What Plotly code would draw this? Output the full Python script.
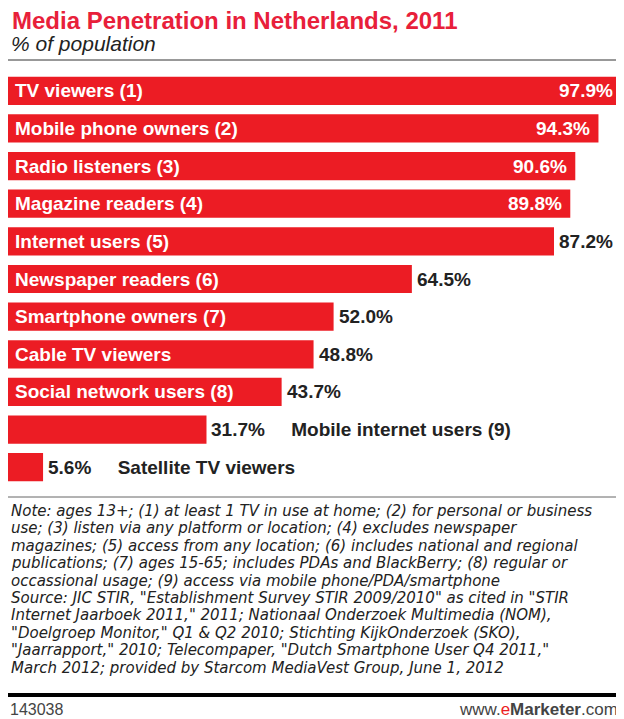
import plotly.graph_objects as go

categories = ["TV viewers (1)", "Mobile phone owners (2)", "Radio listeners (3)",
              "Magazine readers (4)", "Internet users (5)", "Newspaper readers (6)",
              "Smartphone owners (7)", "Cable TV viewers", "Social network users (8)",
              "Mobile internet users (9)", "Satellite TV viewers"]
values = [97.9, 94.3, 90.6, 89.8, 87.2, 64.5, 52.0, 48.8, 43.7, 31.7, 5.6]

title = "Media Penetration in Netherlands, 2011"
subtitle = "% of population"
notes = [
    "Note: ages 13+; (1) at least 1 TV in use at home; (2) for personal or business",
    "use; (3) listen via any platform or location; (4) excludes newspaper",
    "magazines; (5) access from any location; (6) includes national and regional",
    "publications; (7) ages 15-65; includes PDAs and BlackBerry; (8) regular or",
    "occassional usage; (9) access via mobile phone/PDA/smartphone",
    "Source: JIC STIR, \"Establishment Survey STIR 2009/2010\" as cited in \"STIR",
    "Internet Jaarboek 2011,\" 2011; Nationaal Onderzoek Multimedia (NOM),",
    "\"Doelgroep Monitor,\" Q1 & Q2 2010; Stichting KijkOnderzoek (SKO),",
    "\"Jaarrapport,\" 2010; Telecompaper, \"Dutch Smartphone User Q4 2011,\"",
    "March 2012; provided by Starcom MediaVest Group, June 1, 2012",
]
chart_id = "143038"

# the page body has an 8px margin, so the figure is drawn 8px smaller
OFF = 8
W, H = 624 - OFF, 719 - OFF
ML, MR, MT, MB = 0, 2, 64, 233
PW, PH = W - ML - MR, H - MT - MB

RED = "#EC1C24"
FONT = "Liberation Sans"


# positions below are given in the reference picture's pixels
def px(x):
    return (x - OFF - ML) / PW


def py(y):
    return (H - MB - (y - OFF)) / PH


fig = go.Figure(go.Bar(
    x=values, y=categories, orientation="h",
    marker=dict(color=RED, line=dict(width=0)),
    hoverinfo="skip",
))

ann = []
for cat, v in zip(categories, values):
    val = f"{v:.1f}%"
    if v > 40:
        ann.append(dict(x=0, y=cat, xref="x", yref="y", text=cat, showarrow=False,
                        xanchor="left", xshift=5,
                        font=dict(family=FONT, size=19, color="white", weight="bold")))
        if v > 88:
            ann.append(dict(x=v, y=cat, xref="x", yref="y", text=val, showarrow=False,
                            xanchor="right", xshift=-6,
                            font=dict(family=FONT, size=19, color="white", weight="bold")))
        else:
            ann.append(dict(x=v, y=cat, xref="x", yref="y", text=val, showarrow=False,
                            xanchor="left", xshift=3,
                            font=dict(family=FONT, size=19, color="#222", weight="bold")))
    else:
        ann.append(dict(x=v, y=cat, xref="x", yref="y",
                        text=val + "\u00a0" * 5 + cat, showarrow=False,
                        xanchor="left", xshift=3,
                        font=dict(family=FONT, size=19, color="#222", weight="bold")))

ann.append(dict(x=px(10), y=py(21), xref="paper", yref="paper", text=title,
                showarrow=False, xanchor="left", yanchor="middle",
                font=dict(family=FONT, size=24, color="#E8203A", weight="bold")))
ann.append(dict(x=px(9), y=py(44), xref="paper", yref="paper", text=subtitle,
                showarrow=False, xanchor="left", yanchor="middle",
                font=dict(family=FONT, size=21, color="#222", style="italic")))

for i, line in enumerate(notes):
    ann.append(dict(x=px(9), y=py(511 + i * 17.4), xref="paper", yref="paper",
                    text=line, showarrow=False, xanchor="left", yanchor="middle",
                    font=dict(family="DejaVu Sans", size=15, color="#222", style="italic")))

ann.append(dict(x=px(8), y=py(709), xref="paper", yref="paper", text=chart_id,
                showarrow=False, xanchor="left", yanchor="middle",
                font=dict(family=FONT, size=16, color="#444")))
ann.append(dict(x=px(620), y=py(709), xref="paper", yref="paper",
                text="www.<span style='color:#EC1C24'>e</span><b>Marketer</b>.com",
                showarrow=False, xanchor="right", yanchor="middle",
                font=dict(family=FONT, size=17, color="#444")))

shapes = [
    dict(type="rect", xref="paper", yref="paper", x0=px(0), x1=px(624), y0=py(0), y1=py(3),
         fillcolor="black", line=dict(width=0)),
    dict(type="line", xref="paper", yref="paper", x0=px(8), x1=px(622), y0=py(60), y1=py(60),
         line=dict(color="#333", width=1)),
    dict(type="line", xref="paper", yref="paper", x0=px(8), x1=px(622), y0=py(497), y1=py(497),
         line=dict(color="#666", width=1)),
    dict(type="rect", xref="paper", yref="paper", x0=px(8), x1=px(622), y0=py(693), y1=py(697),
         fillcolor="black", line=dict(width=0)),
]

fig.update_layout(
    width=W, height=H,
    margin=dict(l=ML, r=MR, t=MT, b=MB),
    paper_bgcolor="white", plot_bgcolor="white",
    bargap=0.25, showlegend=False,
    xaxis=dict(range=[0, 98.06], visible=False, fixedrange=True),
    yaxis=dict(autorange="reversed", visible=False, fixedrange=True),
    annotations=ann, shapes=shapes,
)

fig.write_html("out.html")
